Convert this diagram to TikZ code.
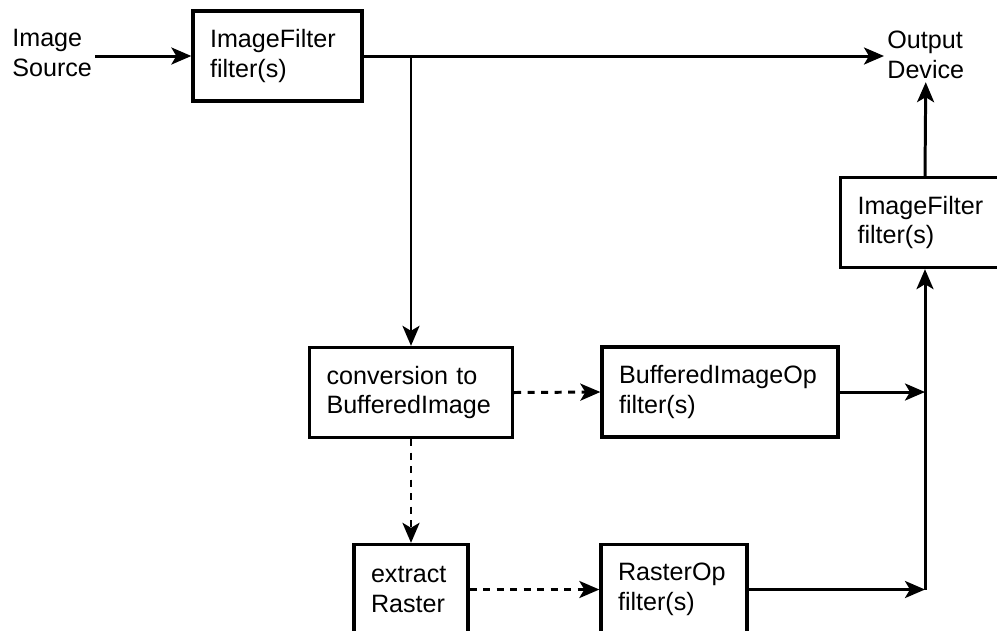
\documentclass[tikz,border=0pt]{standalone}
\usepackage{fontspec}
\setmainfont{Liberation Sans}
\usetikzlibrary{arrows.meta}
\tikzset{
  filterbox/.style={draw, line width=1.9pt, align=left, inner xsep=0.34cm, minimum height=1.8cm},
  plain/.style={align=left, inner sep=0.06cm},
  flow/.style={line width=1.7pt, -{Stealth[length=0.4cm,width=0.34cm,inset=0.1cm]}},
  convflow/.style={flow, dash pattern=on 0.14cm off 0.13cm},
}
\begin{document}
\begin{tikzpicture}[x=0.02cm,y=-0.02cm,font=\fontsize{14.3}{17}\selectfont]
\useasboundingbox (0,0) rectangle (997,630);

% top row
\node[plain, anchor=west] (src) at (9,53) {Image\\Source};
\node[filterbox, text width=2.70cm] (filt) at (277.5,56) {ImageFilter\\filter(s)};
\node[plain, anchor=west] (out) at (884,55) {Output\\Device};
\node[filterbox, text width=2.70cm] (post) at (925,222.5) {ImageFilter\\filter(s)};

% BufferedImage path
\node[filterbox, text width=3.38cm] (conv) at (411,392.5) {conversion to\\BufferedImage};
\node[filterbox, text width=4.04cm] (biop) at (720,392) {BufferedImageOp\\filter(s)};

% Raster path
\node[filterbox, text width=1.60cm] (extr) at (411,589.5) {extract\\Raster};
\node[filterbox, text width=2.24cm] (rop) at (674,589.5) {RasterOp\\filter(s)};

\coordinate (split) at (conv.north |- filt.east);
\coordinate (join) at (post.south |- biop.east);
\coordinate (rjoin) at (post.south |- rop.east);

\draw[flow] (filt.west -| src.east) -- (filt.west);
\draw[flow] (filt.east) -- (filt.east -| out.west);
\draw[flow] (split) -- (conv.north);
\draw[convflow] (conv.east) -- (biop.west);
\draw[convflow] (conv.south) -- (extr.north);
\draw[convflow] (extr.east) -- (rop.west);
\draw[flow] (biop.east) -- (join);
\draw[flow] (rop.east) -- (rjoin);
\draw[flow] (rjoin) -- (post.south);
\draw[flow] (post.north) -- (out.south);
\end{tikzpicture}
\end{document}
